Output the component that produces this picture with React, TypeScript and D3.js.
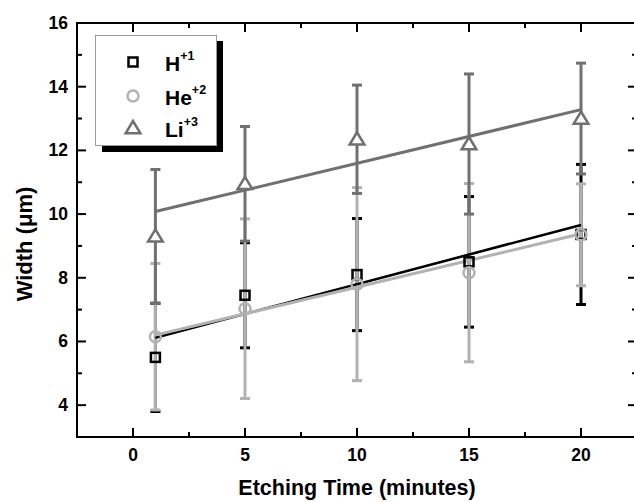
import React from "react";
import * as d3 from "d3";

const times = [1, 5, 10, 15, 20];
const hValues = [5.5, 7.45, 8.1, 8.5, 9.36];
const hErrors = [1.7, 1.65, 1.76, 2.05, 2.2];
const heValues = [6.15, 7.03, 7.8, 8.16, 9.35];
const heErrors = [2.3, 2.82, 3.03, 2.8, 1.6];
const liValues = [9.3, 10.95, 12.35, 12.2, 13.0];
const liErrors = [2.1, 1.8, 1.7, 2.2, 1.74];
// fitted line values at first and last time
const fitX = [1, 20];
const hFit = [6.12, 9.66];
const heFit = [6.2, 9.38];
const liFit = [10.08, 13.28];

const xMajor = [0, 5, 10, 15, 20];
const xMinor = [2.5, 7.5, 12.5, 17.5];
const yMajor = [4, 6, 8, 10, 12, 14, 16];
const yMinor = [5, 7, 9, 11, 13, 15];

const W = 634;
const H = 502;
const FONT = "'Liberation Sans', Arial, Helvetica, sans-serif";

export default function App() {
  const x = d3.scaleLinear().domain([-2.5, 22.5]).range([77, 637]);
  const y = d3.scaleLinear().domain([3, 16]).range([437, 23]);
  const line = d3
    .line<[number, number]>()
    .x((d) => x(d[0]))
    .y((d) => y(d[1]));

  const series = [
    { name: "H", sup: "+1", values: hValues, errs: hErrors, fit: hFit, color: "#000000", shape: "square" },
    { name: "He", sup: "+2", values: heValues, errs: heErrors, fit: heFit, color: "#b2b2b2", shape: "circle" },
    { name: "Li", sup: "+3", values: liValues, errs: liErrors, fit: liFit, color: "#707070", shape: "triangle" },
  ];

  const marker = (shape: string, cx: number, cy: number, color: string, key: string) => {
    if (shape === "square")
      return <rect key={key} x={cx - 4.5} y={cy - 4.5} width={9} height={9} fill="none" stroke={color} strokeWidth={2.5} />;
    if (shape === "circle")
      return <circle key={key} cx={cx} cy={cy} r={5.5} fill="none" stroke={color} strokeWidth={2.5} />;
    const s = 7;
    const pts = [
      [cx, cy - s],
      [cx - s * 1.05, cy + s * 0.75],
      [cx + s * 1.05, cy + s * 0.75],
    ];
    return <polygon key={key} points={pts.map((p) => p.join(",")).join(" ")} fill="white" stroke={color} strokeWidth={2.5} strokeLinejoin="miter" />;
  };

  const capW = 5;
  const ax = 2;
  const xr = x(22.5);

  return (
    <svg width={W} height={H} style={{ position: "absolute", left: 0, top: 0, background: "white" }}>
      <rect width={W} height={H} fill="white" />
      {/* error bars */}
      {series.map((s) =>
        times.map((t, i) => {
          const cx = x(t);
          const top = y(s.values[i] + s.errs[i]);
          const bot = y(s.values[i] - s.errs[i]);
          return (
            <g key={s.name + "e" + i} stroke={s.color} strokeWidth={3}>
              <line x1={cx} x2={cx} y1={top} y2={bot} />
              <line x1={cx - capW} x2={cx + capW} y1={top} y2={top} />
              <line x1={cx - capW} x2={cx + capW} y1={bot} y2={bot} />
            </g>
          );
        })
      )}
      {/* fit lines */}
      {series.map((s) => (
        <path
          key={s.name + "fit"}
          d={line(fitX.map((fx, i) => [fx, s.fit[i]] as [number, number])) || ""}
          fill="none"
          stroke={s.color}
          strokeWidth={s.name === "H" ? 2.6 : 3}
        />
      ))}
      {/* markers */}
      {series.map((s) => times.map((t, i) => marker(s.shape, x(t), y(s.values[i]), s.color, s.name + "m" + i)))}

      {/* axes frame */}
      <g stroke="#000" strokeWidth={ax} fill="none">
        <line x1={77} x2={xr} y1={y(16)} y2={y(16)} />
        <line x1={77} x2={xr} y1={y(3)} y2={y(3)} />
        <line x1={x(-2.5)} x2={x(-2.5)} y1={y(16) - 1} y2={y(3) + 1} />
        {xMajor.map((v) => (
          <g key={"xM" + v}>
            <line x1={x(v)} x2={x(v)} y1={y(3)} y2={y(3) - 9} />
            <line x1={x(v)} x2={x(v)} y1={y(16)} y2={y(16) + 9} />
          </g>
        ))}
        {xMinor.map((v) => (
          <g key={"xm" + v}>
            <line x1={x(v)} x2={x(v)} y1={y(3)} y2={y(3) - 5} />
            <line x1={x(v)} x2={x(v)} y1={y(16)} y2={y(16) + 5} />
          </g>
        ))}
        {yMajor.map((v) => (
          <g key={"yM" + v}>
            <line x1={x(-2.5)} x2={x(-2.5) + 9} y1={y(v)} y2={y(v)} />
            <line x1={xr} x2={xr - 9} y1={y(v)} y2={y(v)} />
          </g>
        ))}
        {yMinor.map((v) => (
          <g key={"ym" + v}>
            <line x1={x(-2.5)} x2={x(-2.5) + 5} y1={y(v)} y2={y(v)} />
            <line x1={xr} x2={xr - 5} y1={y(v)} y2={y(v)} />
          </g>
        ))}
      </g>

      {/* tick labels */}
      <g fontFamily={FONT} fontWeight="bold" fontSize={17.5} fill="#000">
        {xMajor.map((v) => (
          <text key={"xl" + v} x={x(v)} y={461} textAnchor="middle">
            {v}
          </text>
        ))}
        {yMajor.map((v) => (
          <text key={"yl" + v} x={68} y={y(v) + 6} textAnchor="end">
            {v}
          </text>
        ))}
      </g>

      {/* axis titles */}
      <text x={357} y={495} textAnchor="middle" fontFamily={FONT} fontWeight="bold" fontSize={21.5}>
        Etching Time (minutes)
      </text>
      <text
        transform={`translate(32, 244) rotate(-90)`}
        textAnchor="middle"
        fontFamily={FONT}
        fontWeight="bold"
        fontSize={22}
      >
        Width (μm)
      </text>

      {/* legend */}
      <rect x={102} y={41} width={121} height={111} fill="#000" />
      <rect x={95.5} y={35.5} width={121} height={110} fill="white" stroke="#9a9a9a" strokeWidth={1} />
      {series.map((s, i) => {
        const ry = [62, 96, 128][i];
        return (
          <g key={"leg" + s.name}>
            {marker(s.shape, 133, ry, s.color, "lm" + i)}
            <text x={165} y={ry + 9} fontFamily={FONT} fontWeight="bold" fontSize={21}>
              {s.name}
              <tspan fontSize={12.5} dy={-11}>
                {s.sup}
              </tspan>
            </text>
          </g>
        );
      })}
    </svg>
  );
}
